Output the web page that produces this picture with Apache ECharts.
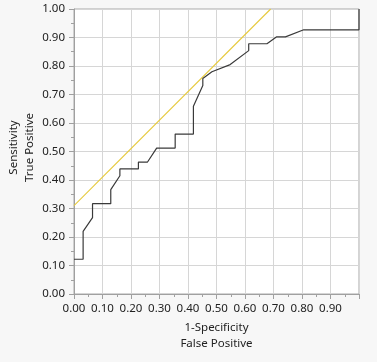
<!DOCTYPE html>
<html>
<head>
<meta charset="utf-8">
<script src="https://cdn.jsdelivr.net/npm/echarts@6/dist/echarts.min.js"></script>
<style>
html,body{margin:0;padding:0;background:#f7f7f7;}
#c{width:377px;height:362px;}
</style>
</head>
<body>
<div id="c"></div>
<script>
// ROC curve points (1-Specificity, Sensitivity)
const fpr = [0, 0.032, 0.032, 0.065, 0.065, 0.129, 0.129, 0.161, 0.161, 0.226, 0.226, 0.258, 0.290, 0.355, 0.355, 0.419, 0.419, 0.452, 0.452, 0.484, 0.548, 0.613, 0.613, 0.677, 0.710, 0.742, 0.806, 1.000, 1.000];
const tpr = [0.122, 0.122, 0.220, 0.268, 0.317, 0.317, 0.366, 0.415, 0.439, 0.439, 0.463, 0.463, 0.512, 0.512, 0.561, 0.561, 0.659, 0.732, 0.756, 0.780, 0.805, 0.854, 0.878, 0.878, 0.902, 0.902, 0.927, 0.927, 1.000];
// tangent reference line
const refX = [0, 0.69];
const refY = [0.31, 1.00];
const xAxisName = '1-Specificity\nFalse Positive';
const yAxisName = 'Sensitivity\nTrue Positive';

const font = 'Noto Sans';
const fs = 11.5;
const txt = '#222';
const chart = echarts.init(document.getElementById('c'), null, {renderer: 'canvas'});
const axisCommon = {
  type: 'value', min: 0, max: 1, interval: 0.1,
  axisLine: {show: true, lineStyle: {color: '#a0a0a0', width: 1}},
  axisTick: {show: true, length: 5, lineStyle: {color: '#a0a0a0'}},
  minorTick: {show: true, splitNumber: 2, length: 3, lineStyle: {color: '#a0a0a0'}},
  splitLine: {show: true, lineStyle: {color: '#d6d6d6', width: 1}},
  nameLocation: 'middle',
  nameMoveOverlap: false,
  nameTextStyle: {fontFamily: font, fontSize: fs, color: txt, lineHeight: 16}
};
chart.setOption({
  animation: false,
  backgroundColor: '#f7f7f7',
  grid: {left: 74, right: 18, top: 9, bottom: 68, containLabel: false, outerBoundsMode: 'none',
    show: true, backgroundColor: '#ffffff', borderColor: '#a8a8a8', borderWidth: 1},
  xAxis: Object.assign({}, axisCommon, {
    name: xAxisName, nameGap: 26,
    axisLabel: {margin: 9, fontFamily: font, fontSize: fs, color: txt,
      formatter: v => v > 0.999 ? '' : v.toFixed(2)}
  }),
  yAxis: Object.assign({}, axisCommon, {
    name: yAxisName, nameGap: 36, nameRotate: 90,
    nameTextStyle: {fontFamily: font, fontSize: fs, color: txt, lineHeight: 16, padding: [0, 0, 0, 8]},
    axisLabel: {margin: 9, fontFamily: font, fontSize: fs, color: txt,
      formatter: v => v.toFixed(2)}
  }),
  series: [
    {type: 'line', data: refX.map((x, i) => [x, refY[i]]), symbol: 'none',
     lineStyle: {color: '#e6c93c', width: 1.1}, z: 2},
    {type: 'line', data: fpr.map((x, i) => [x, tpr[i]]), symbol: 'none',
     lineStyle: {color: '#3a3a3a', width: 1.2}, z: 3}
  ]
});
</script>
</body>
</html>
